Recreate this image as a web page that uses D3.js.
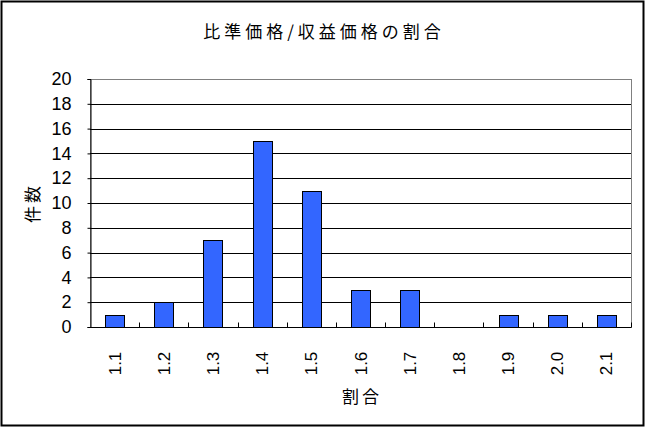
<!DOCTYPE html>
<html>
<head>
<meta charset="utf-8">
<script src="https://cdn.jsdelivr.net/npm/d3@7"></script>
<style>
  body { margin: 0; background: #fff; }
  svg { display: block; }
  text { font-family: "Noto Sans CJK JP", "DejaVu Sans", sans-serif; fill: #000; }
  .tick text, .tick-label { font-family: "Liberation Sans", "DejaVu Sans", sans-serif; }
</style>
</head>
<body>
<svg id="chart" width="647" height="428"></svg>
<script>
const categories = ['1.1', '1.2', '1.3', '1.4', '1.5', '1.6', '1.7', '1.8', '1.9', '2.0', '2.1'];
const counts = [1, 2, 7, 15, 11, 3, 3, 0, 1, 1, 1];
const yTicks = [0, 2, 4, 6, 8, 10, 12, 14, 16, 18, 20];

const svg = d3.select('#chart');
const margin = { left: 90, right: 16, top: 79, bottom: 101 };
const width = 647;
const height = 428;
const innerW = width - margin.left - margin.right;
const innerH = height - margin.top - margin.bottom;

// outer frame
svg.append('rect')
  .attr('x', 1.5).attr('y', 1.5)
  .attr('width', 642).attr('height', 424)
  .attr('fill', '#fff').attr('stroke', '#000').attr('stroke-width', 2);

const g = svg.append('g').attr('transform', `translate(${margin.left},${margin.top})`);

const x = d3.scaleBand().domain(categories).range([0, innerW]);
const y = d3.scaleLinear().domain([0, 20]).range([innerH, 0]);

// plot border (grey top/right)
g.append('rect')
  .attr('x', 0.5).attr('y', 0.5)
  .attr('width', innerW).attr('height', innerH)
  .attr('fill', 'none').attr('stroke', '#808080').attr('stroke-width', 1);

// gridlines
g.selectAll('.grid')
  .data(yTicks.filter((d) => d > 0 && d < 20))
  .enter()
  .append('line')
  .attr('x1', 0).attr('x2', innerW)
  .attr('y1', (d) => Math.round(y(d)) + 0.5)
  .attr('y2', (d) => Math.round(y(d)) + 0.5)
  .attr('stroke', '#000');

// bars
const barW = 19;
const barData = categories.map((c, i) => ({ c, v: counts[i] })).filter((d) => d.v > 0);
g.selectAll('rect.bar')
  .data(barData)
  .enter()
  .append('rect')
  .attr('class', 'bar')
  .attr('x', (d) => Math.round(x(d.c) + x.bandwidth() / 2 - barW / 2) + 0.5)
  .attr('y', (d) => Math.round(y(d.v)) + 0.5)
  .attr('width', barW)
  .attr('height', (d) => Math.round(y(0)) - Math.round(y(d.v)))
  .attr('fill', '#3366ff')
  .attr('stroke', '#000')
  .attr('stroke-width', 1);

// y axis
const yAxis = g.append('g')
  .attr('transform', 'translate(0.5,0)')
  .call(d3.axisLeft(y).tickValues(yTicks).tickSize(3).tickPadding(16));
yAxis.select('.domain').attr('stroke', '#000');
yAxis.selectAll('.tick line').attr('stroke', '#000');
yAxis.selectAll('.tick text').attr('font-size', 18);

// x axis with ticks between categories
const xAxis = g.append('g').attr('transform', `translate(0,${Math.round(innerH) + 0.5})`);
xAxis.append('line').attr('x1', 0).attr('x2', innerW).attr('stroke', '#000');
xAxis.selectAll('.sep')
  .data(categories)
  .enter()
  .append('line')
  .attr('x1', (d, i) => Math.round(x.step() * (i + 1)) + 0.5)
  .attr('x2', (d, i) => Math.round(x.step() * (i + 1)) + 0.5)
  .attr('y1', 0).attr('y2', -5)
  .attr('stroke', '#000');
xAxis.selectAll('.tick-label')
  .data(categories)
  .enter()
  .append('text')
  .attr('class', 'tick-label')
  .attr('transform', (d) => `translate(${x(d) + x.bandwidth() / 2 + 6},${36}) rotate(-90)`)
  .attr('text-anchor', 'middle')
  .attr('font-size', 17)
  .text((d) => d);

// title and axis labels
svg.append('text')
  .attr('x', 324).attr('y', 38)
  .attr('text-anchor', 'middle')
  .attr('font-size', 17)
  .attr('letter-spacing', 4)
  .text('比準価格/収益価格の割合');

svg.append('text')
  .attr('transform', 'translate(39,203) rotate(-90)')
  .attr('text-anchor', 'middle')
  .attr('font-size', 17)
  .attr('letter-spacing', 3)
  .text('件数');

svg.append('text')
  .attr('x', 362).attr('y', 403)
  .attr('text-anchor', 'middle')
  .attr('font-size', 17)
  .attr('letter-spacing', 3)
  .text('割合');
</script>
</body>
</html>
